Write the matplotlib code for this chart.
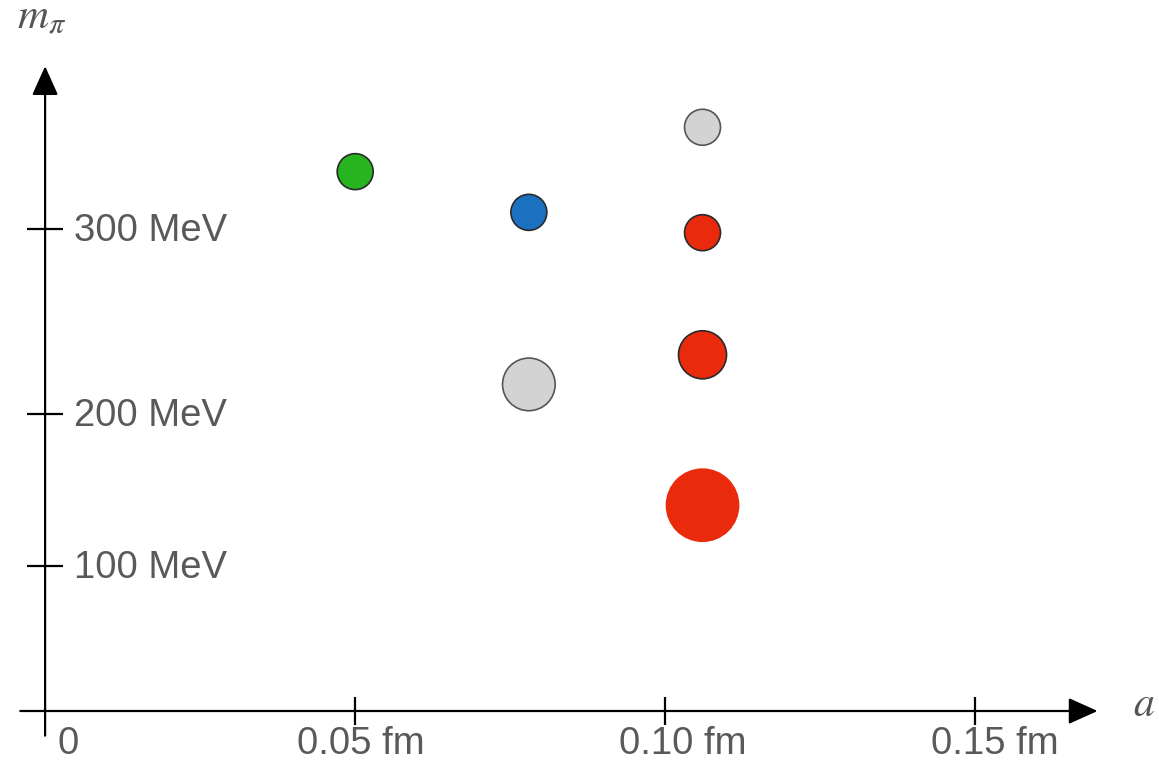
import numpy as np
import matplotlib.pyplot as plt

# ensembles: lattice spacing a (fm) vs pion mass (MeV)
spacing_fm = [0.050, 0.078, 0.106, 0.106, 0.078, 0.106, 0.106]
pion_mass_mev = [331, 309, 355, 298, 216, 232, 140]
face_colors = ['#26b41f', '#1b70c0', '#d3d3d3', '#ea2a0c', '#d3d3d3', '#ea2a0c', '#ea2a0c']
edge_colors = ['#2a2a2a', '#2a2a2a', '#555555', '#2a2a2a', '#555555', '#2a2a2a', 'none']
marker_area = [671, 671, 671, 671, 1436, 1197, 2818]

x_ticks = [0.05, 0.10, 0.15]
x_tick_labels = ['0.05 fm', '0.10 fm', '0.15 fm']
y_ticks = [100, 200, 300]
y_tick_labels = ['100 MeV', '200 MeV', '300 MeV']

# the mass axis is drawn schematically: piecewise-linear spacing between ticks
K_MEV = np.array([-100, 0, 100, 200, 300, 500])
K_POS = -np.array([856, 711, 566, 414, 229, -141])


def fwd(m):
    return np.interp(m, K_MEV, K_POS)


def inv(v):
    return np.interp(v, K_POS, K_MEV)


plt.rcParams['font.family'] = ['Liberation Sans', 'DejaVu Sans']
plt.rcParams['mathtext.fontset'] = 'stix'

fig = plt.figure(figsize=(11.59, 7.66), dpi=100)
ax = fig.add_axes([0, 0, 1, 1])
ax.set_yscale('function', functions=(fwd, inv))
ax.set_xlim(-45.1 / 6202, (1159 - 45.1) / 6202)
ax.set_ylim(inv(-766), inv(0))
ax.axis('off')

# axes with arrow heads
arrow = dict(arrowstyle='-|>,head_length=1.0,head_width=0.45', color='black',
             lw=1.6, shrinkA=0, shrinkB=0, mutation_scale=18)
ax.annotate('', xy=(0.1697, 0), xytext=(-0.004, 0), arrowprops=arrow)
ax.annotate('', xy=(0, 388), xytext=(0, -17), arrowprops=arrow)

# tick marks crossing the axes
ax.plot(x_ticks, [0] * len(x_ticks), ls='none', marker='|', ms=20, mew=1.6, color='black')
ax.plot([0] * len(y_ticks), y_ticks, ls='none', marker='_', ms=26, mew=1.6, color='black')

label_color = '#595959'
x_label_shift = [6, 17, 19]
for t, lab, dx in zip(x_ticks, x_tick_labels, x_label_shift):
    ax.annotate(lab, xy=(t, 0), xytext=(dx, -33), textcoords='offset pixels',
                ha='center', va='center', fontsize=27.5, color=label_color)
ax.annotate('0', xy=(0, 0), xytext=(23, -33), textcoords='offset pixels',
            ha='center', va='center', fontsize=27.5, color=label_color)
for t, lab in zip(y_ticks, y_tick_labels):
    ax.annotate(lab, xy=(0, t), xytext=(29, -2), textcoords='offset pixels',
                ha='left', va='center', fontsize=27.5, color=label_color)

# axis names
ax.annotate(r'$m_\pi$', xy=(0, 388), xytext=(-4, 48), textcoords='offset pixels',
            ha='center', va='center', fontsize=31, color='#555555')
ax.annotate(r'$a$', xy=(0.1697, 0), xytext=(46, 6), textcoords='offset pixels',
            ha='center', va='center', fontsize=30, color='#555555')

ax.scatter(spacing_fm, pion_mass_mev, s=marker_area, c=face_colors,
           edgecolors=edge_colors, linewidths=1.2, zorder=3)

fig.savefig('out.png', dpi=100)
